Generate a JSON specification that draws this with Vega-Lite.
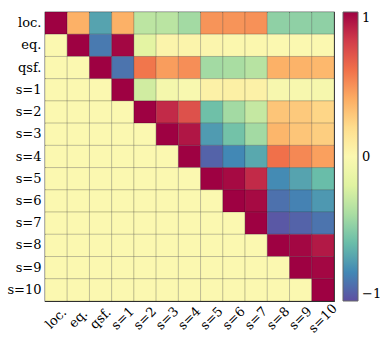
{
  "$schema": "https://vega.github.io/schema/vega-lite/v6.json",
  "width": 289,
  "height": 289,
  "autosize": {"type": "none"},
  "padding": {"left": 45, "top": 12, "right": 54, "bottom": 44},
  "background": "white",
  "config": {
    "view": {"stroke": "#333333", "strokeWidth": 1.2},
    "font": "DejaVu Serif"
  },
  "data": {"values": [
    {"r":"loc.","c":"loc.","v":1},{"r":"loc.","c":"eq.","v":0.38},{"r":"loc.","c":"qsf.","v":-0.7},{"r":"loc.","c":"s=1","v":0.38},{"r":"loc.","c":"s=2","v":-0.33},{"r":"loc.","c":"s=3","v":-0.34},{"r":"loc.","c":"s=4","v":-0.42},{"r":"loc.","c":"s=5","v":0.48},{"r":"loc.","c":"s=6","v":0.48},{"r":"loc.","c":"s=7","v":0.49},{"r":"loc.","c":"s=8","v":-0.48},{"r":"loc.","c":"s=9","v":-0.48},{"r":"loc.","c":"s=10","v":-0.48},
    {"r":"eq.","c":"loc.","v":0},{"r":"eq.","c":"eq.","v":1},{"r":"eq.","c":"qsf.","v":-0.85},{"r":"eq.","c":"s=1","v":0.98},{"r":"eq.","c":"s=2","v":-0.17},{"r":"eq.","c":"s=3","v":0.03},{"r":"eq.","c":"s=4","v":0.03},{"r":"eq.","c":"s=5","v":0.02},{"r":"eq.","c":"s=6","v":0.01},{"r":"eq.","c":"s=7","v":0.01},{"r":"eq.","c":"s=8","v":0},{"r":"eq.","c":"s=9","v":0},{"r":"eq.","c":"s=10","v":0},
    {"r":"qsf.","c":"loc.","v":0},{"r":"qsf.","c":"eq.","v":0},{"r":"qsf.","c":"qsf.","v":1},{"r":"qsf.","c":"s=1","v":-0.87},{"r":"qsf.","c":"s=2","v":0.58},{"r":"qsf.","c":"s=3","v":0.45},{"r":"qsf.","c":"s=4","v":0.5},{"r":"qsf.","c":"s=5","v":-0.42},{"r":"qsf.","c":"s=6","v":-0.4},{"r":"qsf.","c":"s=7","v":-0.35},{"r":"qsf.","c":"s=8","v":0.38},{"r":"qsf.","c":"s=9","v":0.37},{"r":"qsf.","c":"s=10","v":0.35},
    {"r":"s=1","c":"loc.","v":0},{"r":"s=1","c":"eq.","v":0},{"r":"s=1","c":"qsf.","v":0},{"r":"s=1","c":"s=1","v":1},{"r":"s=1","c":"s=2","v":-0.26},{"r":"s=1","c":"s=3","v":-0.05},{"r":"s=1","c":"s=4","v":-0.02},{"r":"s=1","c":"s=5","v":0.05},{"r":"s=1","c":"s=6","v":0.06},{"r":"s=1","c":"s=7","v":0.05},{"r":"s=1","c":"s=8","v":-0.03},{"r":"s=1","c":"s=9","v":-0.03},{"r":"s=1","c":"s=10","v":-0.04},
    {"r":"s=2","c":"loc.","v":0},{"r":"s=2","c":"eq.","v":0},{"r":"s=2","c":"qsf.","v":0},{"r":"s=2","c":"s=1","v":0},{"r":"s=2","c":"s=2","v":1},{"r":"s=2","c":"s=3","v":0.86},{"r":"s=2","c":"s=4","v":0.72},{"r":"s=2","c":"s=5","v":-0.58},{"r":"s=2","c":"s=6","v":-0.42},{"r":"s=2","c":"s=7","v":-0.3},{"r":"s=2","c":"s=8","v":0.3},{"r":"s=2","c":"s=9","v":0.28},{"r":"s=2","c":"s=10","v":0.23},
    {"r":"s=3","c":"loc.","v":0},{"r":"s=3","c":"eq.","v":0},{"r":"s=3","c":"qsf.","v":0},{"r":"s=3","c":"s=1","v":0},{"r":"s=3","c":"s=2","v":0},{"r":"s=3","c":"s=3","v":1},{"r":"s=3","c":"s=4","v":0.93},{"r":"s=3","c":"s=5","v":-0.73},{"r":"s=3","c":"s=6","v":-0.57},{"r":"s=3","c":"s=7","v":-0.42},{"r":"s=3","c":"s=8","v":0.36},{"r":"s=3","c":"s=9","v":0.3},{"r":"s=3","c":"s=10","v":0.26},
    {"r":"s=4","c":"loc.","v":0},{"r":"s=4","c":"eq.","v":0},{"r":"s=4","c":"qsf.","v":0},{"r":"s=4","c":"s=1","v":0},{"r":"s=4","c":"s=2","v":0},{"r":"s=4","c":"s=3","v":0},{"r":"s=4","c":"s=4","v":1},{"r":"s=4","c":"s=5","v":-0.93},{"r":"s=4","c":"s=6","v":-0.8},{"r":"s=4","c":"s=7","v":-0.68},{"r":"s=4","c":"s=8","v":0.6},{"r":"s=4","c":"s=9","v":0.52},{"r":"s=4","c":"s=10","v":0.44},
    {"r":"s=5","c":"loc.","v":0},{"r":"s=5","c":"eq.","v":0},{"r":"s=5","c":"qsf.","v":0},{"r":"s=5","c":"s=1","v":0},{"r":"s=5","c":"s=2","v":0},{"r":"s=5","c":"s=3","v":0},{"r":"s=5","c":"s=4","v":0},{"r":"s=5","c":"s=5","v":1},{"r":"s=5","c":"s=6","v":0.97},{"r":"s=5","c":"s=7","v":0.86},{"r":"s=5","c":"s=8","v":-0.79},{"r":"s=5","c":"s=9","v":-0.7},{"r":"s=5","c":"s=10","v":-0.6},
    {"r":"s=6","c":"loc.","v":0},{"r":"s=6","c":"eq.","v":0},{"r":"s=6","c":"qsf.","v":0},{"r":"s=6","c":"s=1","v":0},{"r":"s=6","c":"s=2","v":0},{"r":"s=6","c":"s=3","v":0},{"r":"s=6","c":"s=4","v":0},{"r":"s=6","c":"s=5","v":0},{"r":"s=6","c":"s=6","v":1},{"r":"s=6","c":"s=7","v":0.97},{"r":"s=6","c":"s=8","v":-0.88},{"r":"s=6","c":"s=9","v":-0.82},{"r":"s=6","c":"s=10","v":-0.74},
    {"r":"s=7","c":"loc.","v":0},{"r":"s=7","c":"eq.","v":0},{"r":"s=7","c":"qsf.","v":0},{"r":"s=7","c":"s=1","v":0},{"r":"s=7","c":"s=2","v":0},{"r":"s=7","c":"s=3","v":0},{"r":"s=7","c":"s=4","v":0},{"r":"s=7","c":"s=5","v":0},{"r":"s=7","c":"s=6","v":0},{"r":"s=7","c":"s=7","v":1},{"r":"s=7","c":"s=8","v":-0.97},{"r":"s=7","c":"s=9","v":-0.93},{"r":"s=7","c":"s=10","v":-0.87},
    {"r":"s=8","c":"loc.","v":0},{"r":"s=8","c":"eq.","v":0},{"r":"s=8","c":"qsf.","v":0},{"r":"s=8","c":"s=1","v":0},{"r":"s=8","c":"s=2","v":0},{"r":"s=8","c":"s=3","v":0},{"r":"s=8","c":"s=4","v":0},{"r":"s=8","c":"s=5","v":0},{"r":"s=8","c":"s=6","v":0},{"r":"s=8","c":"s=7","v":0},{"r":"s=8","c":"s=8","v":1},{"r":"s=8","c":"s=9","v":0.98},{"r":"s=8","c":"s=10","v":0.92},
    {"r":"s=9","c":"loc.","v":0},{"r":"s=9","c":"eq.","v":0},{"r":"s=9","c":"qsf.","v":0},{"r":"s=9","c":"s=1","v":0},{"r":"s=9","c":"s=2","v":0},{"r":"s=9","c":"s=3","v":0},{"r":"s=9","c":"s=4","v":0},{"r":"s=9","c":"s=5","v":0},{"r":"s=9","c":"s=6","v":0},{"r":"s=9","c":"s=7","v":0},{"r":"s=9","c":"s=8","v":0},{"r":"s=9","c":"s=9","v":1},{"r":"s=9","c":"s=10","v":0.98},
    {"r":"s=10","c":"loc.","v":0},{"r":"s=10","c":"eq.","v":0},{"r":"s=10","c":"qsf.","v":0},{"r":"s=10","c":"s=1","v":0},{"r":"s=10","c":"s=2","v":0},{"r":"s=10","c":"s=3","v":0},{"r":"s=10","c":"s=4","v":0},{"r":"s=10","c":"s=5","v":0},{"r":"s=10","c":"s=6","v":0},{"r":"s=10","c":"s=7","v":0},{"r":"s=10","c":"s=8","v":0},{"r":"s=10","c":"s=9","v":0},{"r":"s=10","c":"s=10","v":1}
  ]},
  "mark": {"type": "rect", "stroke": "#000000", "strokeWidth": 0.8, "strokeOpacity": 0.22},
  "encoding": {
    "x": {
      "field": "c", "type": "nominal",
      "sort": ["loc.","eq.","qsf.","s=1","s=2","s=3","s=4","s=5","s=6","s=7","s=8","s=9","s=10"],
      "scale": {"paddingInner": 0, "paddingOuter": 0},
      "axis": {"title": null, "domain": false, "ticks": false, "labelAngle": -45, "labelAlign": "center", "labelBaseline": "middle", "labelPadding": 17, "labelFont": "DejaVu Serif", "labelFontSize": 13, "labelColor": "#000000"}
    },
    "y": {
      "field": "r", "type": "nominal",
      "sort": ["loc.","eq.","qsf.","s=1","s=2","s=3","s=4","s=5","s=6","s=7","s=8","s=9","s=10"],
      "scale": {"paddingInner": 0, "paddingOuter": 0},
      "axis": {"title": null, "domain": false, "ticks": false, "labelPadding": 4, "labelFont": "DejaVu Serif", "labelFontSize": 13, "labelColor": "#000000"}
    },
    "color": {
      "field": "v", "type": "quantitative",
      "scale": {"scheme": "spectral", "reverse": true, "domain": [-1, 1]},
      "legend": {
        "title": null, "orient": "right", "offset": 9, "direction": "vertical",
        "gradientLength": 289, "gradientThickness": 15,
        "gradientStrokeColor": "#666666", "gradientStrokeWidth": 1,
        "values": [-1, 0, 1],
        "labelExpr": "datum.value < 0 ? '\u22121' : (datum.value > 0 ? '1' : '0')",
        "labelFont": "DejaVu Serif", "labelFontSize": 13, "labelColor": "#000000", "labelOffset": 4
      }
    }
  }
}
